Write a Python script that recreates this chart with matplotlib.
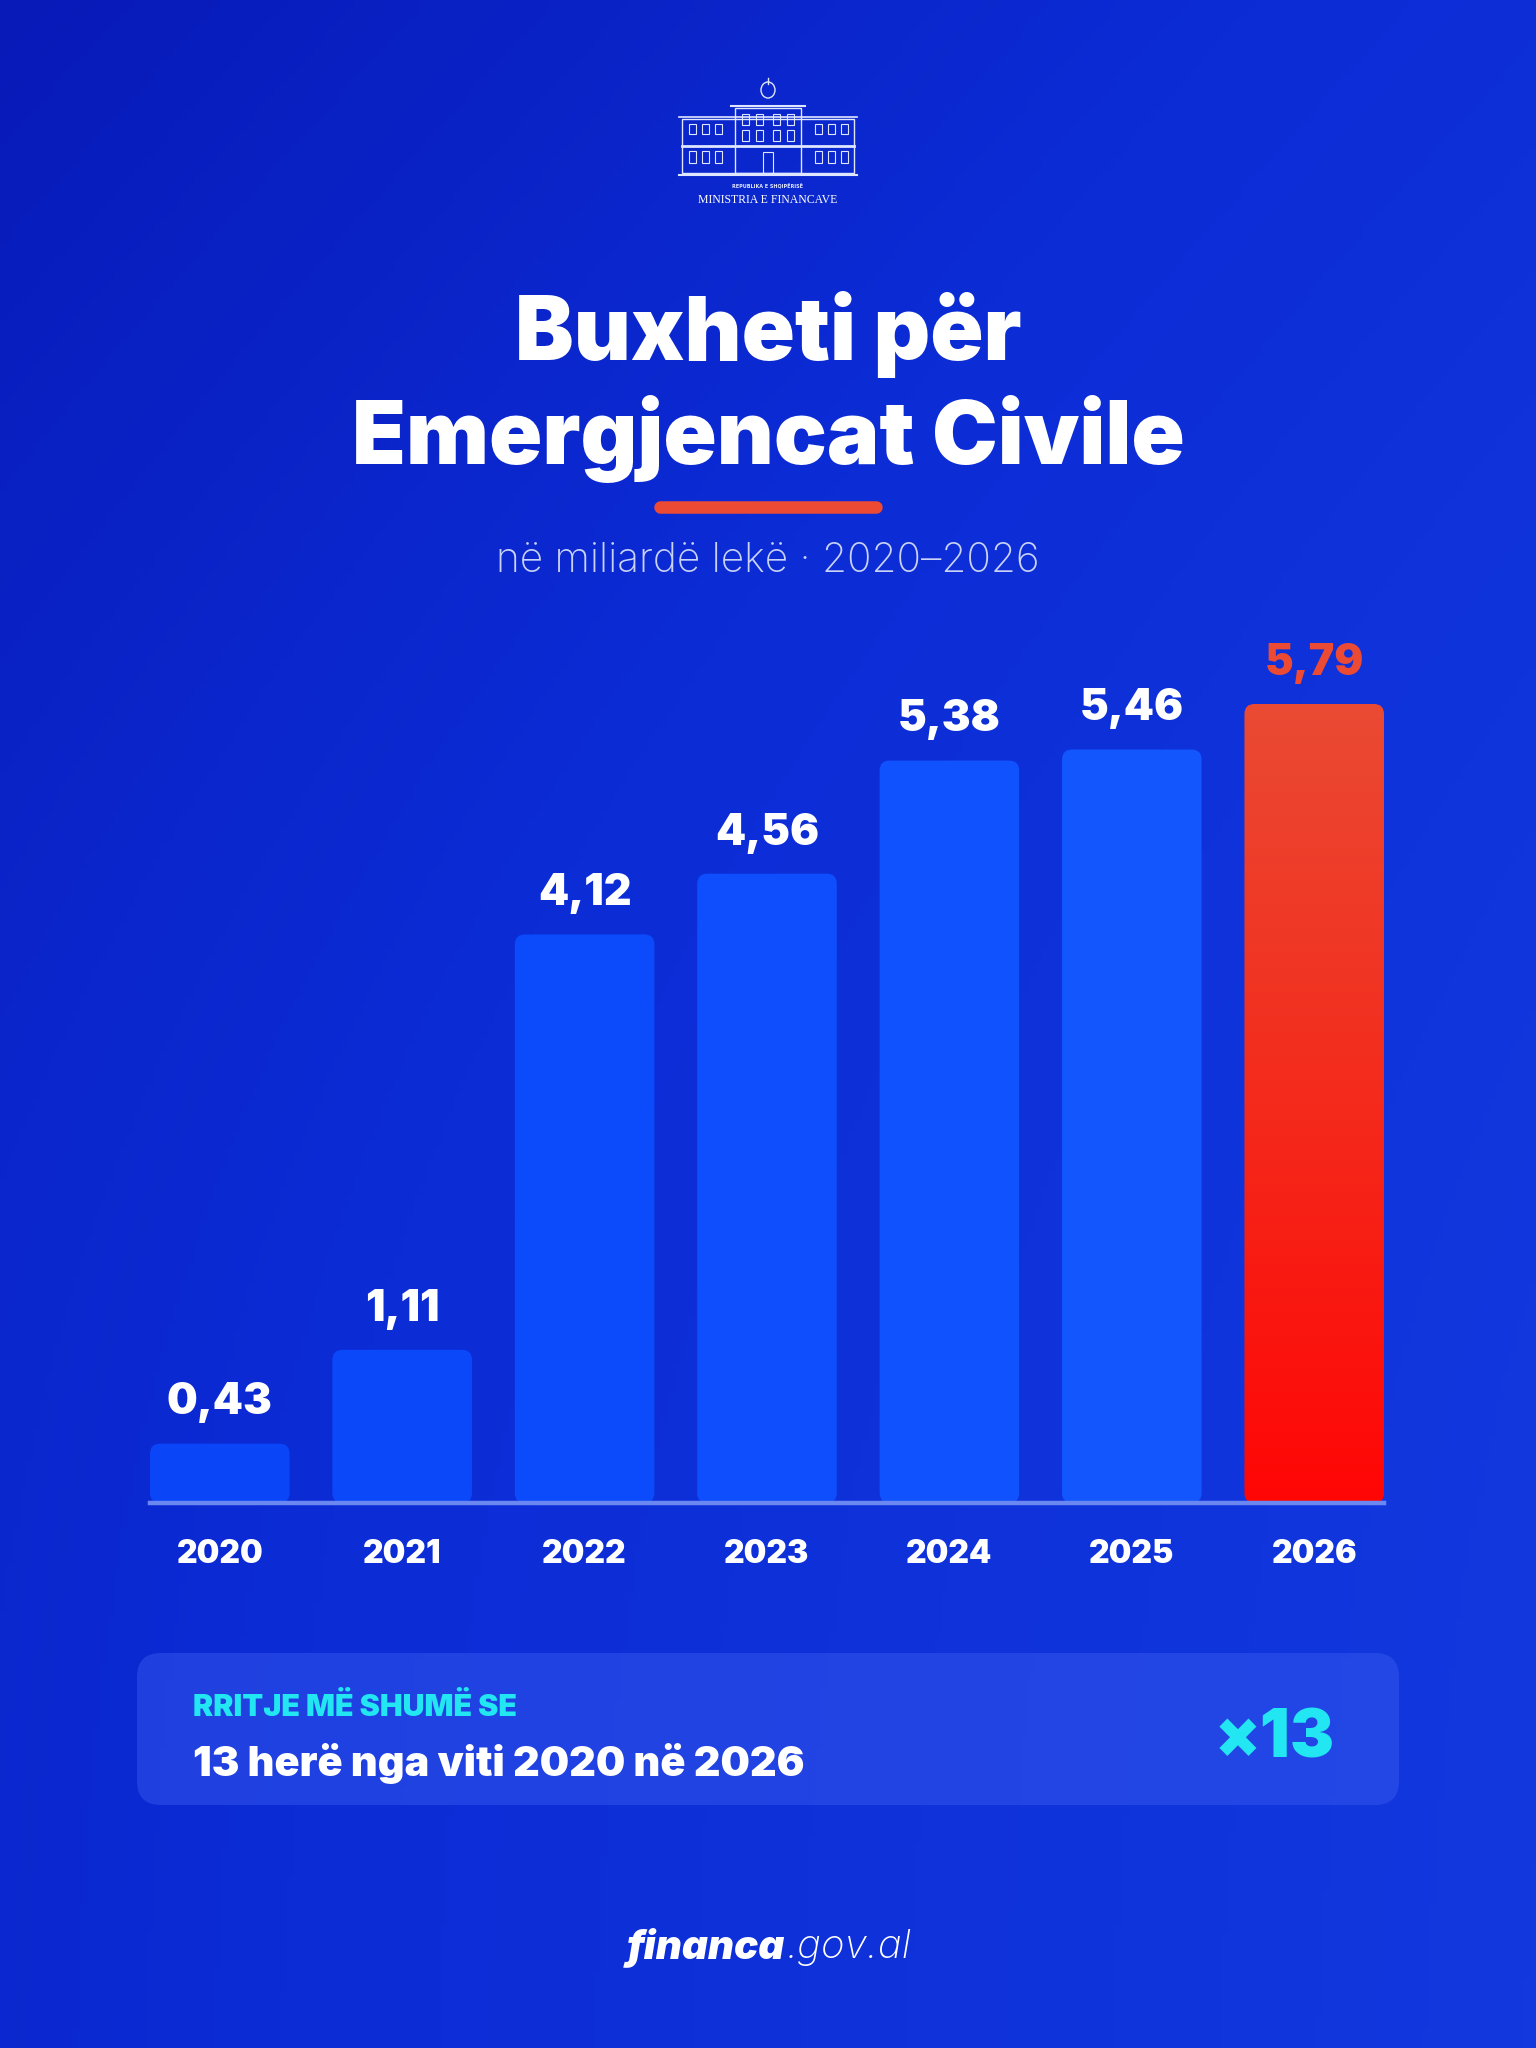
import numpy as np
import matplotlib.pyplot as plt
from matplotlib.patches import FancyBboxPatch, Rectangle, Ellipse
from matplotlib.colors import LinearSegmentedColormap

# data
years = ['2020', '2021', '2022', '2023', '2024', '2025', '2026']
budget = [0.43, 1.11, 4.12, 4.56, 5.38, 5.46, 5.79]
value_labels = ['0,43', '1,11', '4,12', '4,56', '5,38', '5,46', '5,79']

title_lines = ['Buxheti për', 'Emergjencat Civile']
subtitle = 'në miliardë lekë · 2020–2026'
box_kicker = 'RRITJE MË SHUMË SE'
box_text = '13 herë nga viti 2020 në 2026'
box_big = '×13'

W, H = 1536, 2048
BOLD = ['Inter', 'DejaVu Sans']
CYAN = '#22e6f2'
RED = '#ec4a33'

fig = plt.figure(figsize=(W / 100, H / 100), dpi=100)
renderer = fig.canvas.get_renderer()

# full page axes in pixel coords (y down)
bg = fig.add_axes([0, 0, 1, 1])
bg.set_xlim(0, W)
bg.set_ylim(H, 0)
bg.axis('off')

yy, xx = np.mgrid[0:1:300j, 0:1:230j]
grad = np.clip(0.55 * xx + 0.35 * yy + 0.1 * np.sin(np.pi * yy), 0, 1)
bg_cmap = LinearSegmentedColormap.from_list('bg', ['#081ab8', '#0c2cd6', '#1238de'])
bg.imshow(grad, extent=(0, W, H, 0), cmap=bg_cmap, aspect='auto', zorder=0)


def fit(t, target_w):
    # scale font size so the text spans target_w pixels
    w = t.get_window_extent(renderer).width
    t.set_fontsize(t.get_fontsize() * target_w / w)
    return t


# logo (ministry building line art)
lc = '#dfe6ff'
bg.plot([679, 857], [117, 117], color=lc, lw=1.2)
bg.add_patch(Rectangle((682, 119), 172, 54, fill=False, ec=lc, lw=1))
bg.add_patch(Rectangle((735, 108), 66, 65, fill=False, ec=lc, lw=1))
bg.plot([731, 805], [106, 106], color=lc, lw=1.5)
bg.plot([682, 854], [146, 146], color=lc, lw=2)
bg.plot([679, 857], [175, 175], color=lc, lw=1.5)
for wx in [689, 702, 715, 815, 828, 841]:
    bg.add_patch(Rectangle((wx, 124), 7, 10, fill=False, ec=lc, lw=0.8))
    bg.add_patch(Rectangle((wx, 151), 7, 12, fill=False, ec=lc, lw=0.8))
for wx in [742, 756, 773, 787]:
    bg.add_patch(Rectangle((wx, 114), 7, 11, fill=False, ec=lc, lw=0.8))
    bg.add_patch(Rectangle((wx, 130), 7, 11, fill=False, ec=lc, lw=0.8))
bg.add_patch(Rectangle((763, 152), 10, 21, fill=False, ec=lc, lw=0.8))
bg.add_patch(Ellipse((768, 90), 14, 16, fill=False, ec=lc, lw=1))
bg.plot([768, 768], [78, 84], color=lc, lw=1)
bg.text(768, 187, 'REPUBLIKA E SHQIPËRISË', color=lc, fontsize=3.5, ha='center',
        va='center', family='DejaVu Sans', weight='bold')
bg.text(768, 200, 'MINISTRIA E FINANCAVE', color='white', fontsize=8.5, ha='center',
        va='center', family='Liberation Serif')

# title
t1 = bg.text(768, 360, title_lines[0], color='white', fontsize=60, weight='black',
             family=BOLD, ha='center', va='baseline')
t2 = bg.text(768, 464, title_lines[1], color='white', fontsize=60, weight='black',
             family=BOLD, ha='center', va='baseline')
fit(t1, 507)
fit(t2, 833)
bg.plot([660, 876], [507, 507], color=RED, lw=9, solid_capstyle='round')
st = bg.text(768, 572, subtitle, color='#c9d2f7', fontsize=26, weight='light',
             family=['Inter', 'DejaVu Sans'], ha='center', va='baseline')
fit(st, 545)

# chart
px_unit = 138.0
ymax = 6.5
base_y = 1503
ax = fig.add_axes([150 / W, (H - base_y) / H, 1234 / W, ymax * px_unit / H])
ax.axis('off')
ax.patch.set_alpha(0)

bw = 0.765
blue_cols = ['#0a45f8', '#0b48fa', '#0c4bfb', '#0e4efc', '#1052fd', '#1356fe', None]
red_cmap = LinearSegmentedColormap.from_list('red', ['#ff0605', '#f42a1c', '#ea4a33'])
for i, v in enumerate(budget):
    last = i == len(budget) - 1
    p = FancyBboxPatch((i - bw / 2, 0), bw, v, boxstyle='round,pad=0,rounding_size=0.055',
                       mutation_aspect=1.32, lw=0,
                       fc='none' if last else blue_cols[i], zorder=2)
    ax.add_patch(p)
    if last:
        im = ax.imshow(np.linspace(0, 1, 100).reshape(-1, 1), cmap=red_cmap, origin='lower',
                       extent=(i - bw / 2, i + bw / 2, 0, v), aspect='auto', zorder=2)
        im.set_clip_path(p)
    ax.annotate(value_labels[i], (i, v), xytext=(0, 21), textcoords='offset points',
                ha='center', va='baseline', color=RED if last else 'white',
                fontsize=31, weight='black', family=BOLD)
    ax.annotate(years[i], (i, 0), xytext=(0, -43.5), textcoords='offset points',
                ha='center', va='baseline', color='white', fontsize=23,
                weight='black', family=BOLD)
ax.set_xlim(-0.3825, 6.3825)
ax.set_ylim(0, ymax)
ax.plot([-0.3825, 6.3825], [0, 0], color='#6b88f2', lw=3.2, zorder=3, clip_on=False)

# summary box
bg.add_patch(FancyBboxPatch((137, 1653), 1262, 152, boxstyle='round,pad=0,rounding_size=24',
                            fc='#3a5cf0', alpha=0.45, lw=0, zorder=1))
k = bg.text(193, 1716, box_kicker, color=CYAN, fontsize=16, weight='black', family=BOLD,
            ha='left', va='baseline')
fit(k, 323)
b = bg.text(193, 1776, box_text, color='white', fontsize=28, weight='black', family=BOLD,
            ha='left', va='baseline')
fit(b, 612)
x13 = bg.text(1335, 1758, box_big, color=CYAN, fontsize=48, weight='black', family=BOLD,
              ha='right', va='baseline')
fit(x13, 120)

# footer
f1 = bg.text(0, 1958, 'financa', color='white', fontsize=29, weight='black', style='italic',
             family=BOLD, ha='left', va='baseline')
f2 = bg.text(0, 1958, '.gov.al', color='white', fontsize=29, weight='light', style='italic',
             family=BOLD, ha='left', va='baseline')
w1 = f1.get_window_extent(renderer).width
w2 = f2.get_window_extent(renderer).width
x0 = 768 - (w1 + w2) / 2
f1.set_x(x0)
f2.set_x(x0 + w1 + 2)

fig.savefig('out.png', dpi=100)
